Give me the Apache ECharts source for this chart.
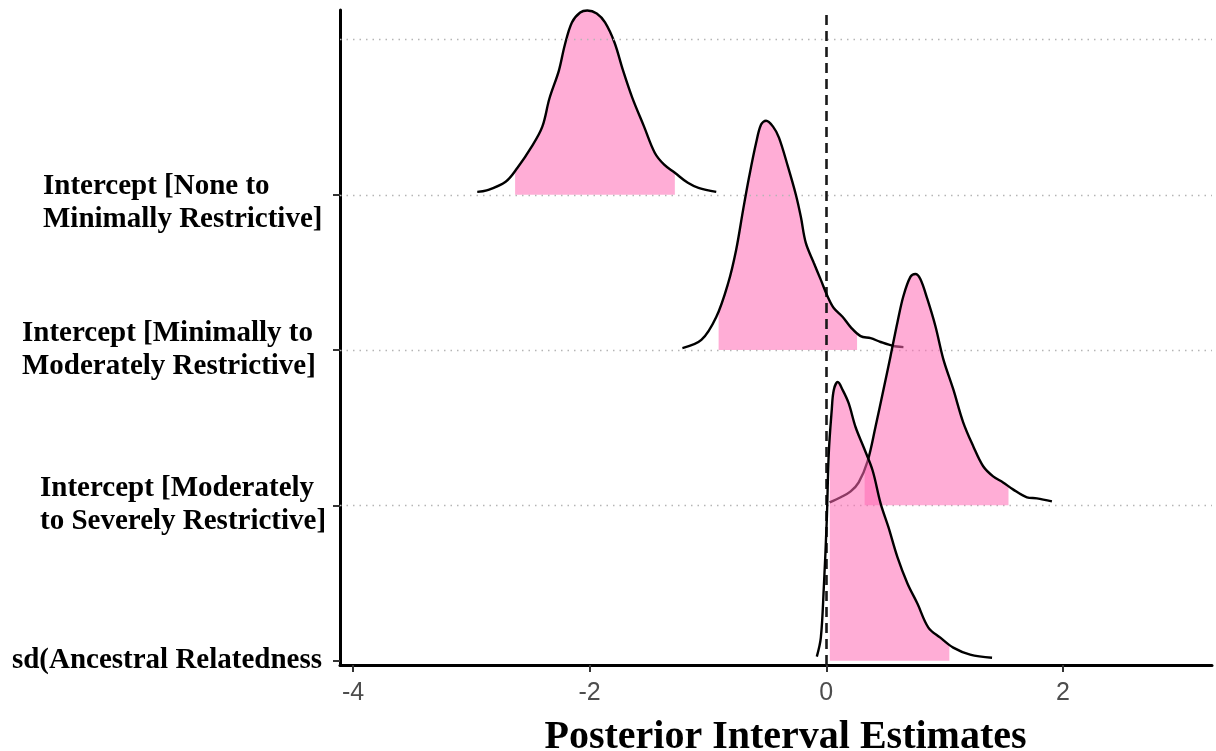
<!DOCTYPE html>
<html>
<head>
<meta charset="utf-8">
<script src="https://cdn.jsdelivr.net/npm/echarts@6/dist/echarts.min.js"></script>
<style>
  html, body { margin: 0; padding: 0; background: #ffffff; }
  #chart { width: 1216px; height: 751px; }
</style>
</head>
<body>
<div id="chart"></div>
<script>
// Row labels, bottom row first (row index = baseline level on the y axis)
const parameterLabels = [
  'sd(Ancestral Relatedness',
  'Intercept [Moderately\nto Severely Restrictive]',
  'Intercept [Minimally to\nModerately Restrictive]',
  'Intercept [None to\nMinimally Restrictive]'
];
const xTickValues = [-4, -2, 0, 2];
const rowLevels = [0, 1, 2, 3];
const gridLevels = [1, 2, 3, 4];

// Posterior density of each parameter: x positions and curve heights (row units)
const noneX = [-2.95, -2.87, -2.71, -2.61, -2.49, -2.40, -2.34, -2.26, -2.21, -2.15, -2.08, -2.02, -1.94, -1.87, -1.79, -1.72, -1.64, -1.54, -1.45, -1.37, -1.28, -1.17, -1.08, -0.93];
const noneH = [0.019, 0.028, 0.084, 0.174, 0.310, 0.439, 0.620, 0.800, 0.965, 1.110, 1.174, 1.187, 1.168, 1.110, 0.981, 0.806, 0.626, 0.439, 0.271, 0.194, 0.142, 0.077, 0.045, 0.019];
const noneInterval = [-2.63, -1.28];

const minimalX = [-1.216, -1.056, -0.930, -0.829, -0.762, -0.703, -0.652, -0.593, -0.551, -0.509, -0.450, -0.400, -0.324, -0.257, -0.215, -0.173, -0.105, -0.046, 0.013, 0.063, 0.139, 0.206, 0.290, 0.375, 0.459, 0.568, 0.652];
const minimalH = [0.013, 0.065, 0.213, 0.432, 0.645, 0.903, 1.116, 1.335, 1.452, 1.477, 1.439, 1.368, 1.181, 1.000, 0.858, 0.690, 0.561, 0.452, 0.342, 0.271, 0.213, 0.148, 0.090, 0.077, 0.052, 0.026, 0.019];
const minimalInterval = [-0.91, 0.26];

const moderateX = [0.029, 0.122, 0.206, 0.274, 0.349, 0.417, 0.484, 0.543, 0.602, 0.652, 0.711, 0.753, 0.795, 0.854, 0.922, 0.989, 1.073, 1.157, 1.242, 1.326, 1.410, 1.494, 1.578, 1.696, 1.780, 1.907];
const moderateH = [0.019, 0.052, 0.090, 0.148, 0.284, 0.510, 0.748, 0.961, 1.181, 1.348, 1.471, 1.490, 1.458, 1.329, 1.155, 0.942, 0.748, 0.535, 0.381, 0.252, 0.187, 0.148, 0.103, 0.052, 0.045, 0.026];
const moderateInterval = [0.324, 1.54];

const sdX = [-0.080, -0.046, -0.021, 0.004, 0.021, 0.046, 0.063, 0.097, 0.139, 0.189, 0.248, 0.316, 0.391, 0.459, 0.526, 0.602, 0.686, 0.770, 0.863, 0.964, 1.073, 1.216, 1.401];
const sdH = [0.026, 0.148, 0.471, 0.903, 1.335, 1.613, 1.742, 1.794, 1.742, 1.658, 1.503, 1.374, 1.226, 1.013, 0.858, 0.665, 0.497, 0.368, 0.213, 0.148, 0.084, 0.039, 0.019];
const sdInterval = [0.03, 1.04];

// Ridges drawn top row first so lower rows overlay upper ones
const ridges = [
  { level: 3, xs: noneX, hs: noneH, interval: noneInterval },
  { level: 2, xs: minimalX, hs: minimalH, interval: minimalInterval },
  { level: 1, xs: moderateX, hs: moderateH, interval: moderateInterval },
  { level: 0, xs: sdX, hs: sdH, interval: sdInterval }
];

const FILL = 'rgba(255,105,180,0.55)';

function heightAt(xs, hs, x) {
  for (let i = 0; i < xs.length - 1; i++) {
    if (x >= xs[i] && x <= xs[i + 1]) {
      const t = (x - xs[i]) / (xs[i + 1] - xs[i]);
      return hs[i] + t * (hs[i + 1] - hs[i]);
    }
  }
  return 0;
}

const series = [];

// dotted horizontal guides at each row baseline
series.push({
  type: 'line', data: [], silent: true, z: 1,
  markLine: {
    silent: true, symbol: 'none', animation: false,
    label: { show: false },
    lineStyle: { color: '#b5b5b5', width: 1.3, type: [1.5, 5] },
    data: gridLevels.map(v => ({ yAxis: v }))
  }
});

ridges.forEach((r, i) => {
  const curve = r.xs.map((x, k) => [x, r.level + r.hs[k]]);
  const lo = r.interval[0], hi = r.interval[1];
  const band = [[lo, r.level + heightAt(r.xs, r.hs, lo)]];
  r.xs.forEach((x, k) => { if (x > lo && x < hi) band.push([x, r.level + r.hs[k]]); });
  band.push([hi, r.level + heightAt(r.xs, r.hs, hi)]);

  series.push({
    type: 'line', data: band, smooth: 0.35, symbol: 'none', silent: true,
    z: 2 + i * 2,
    lineStyle: { width: 0, opacity: 0 },
    areaStyle: { color: FILL, opacity: 1, origin: r.level }
  });
  series.push({
    type: 'line', data: curve, smooth: 0.35, symbol: 'none', silent: true,
    z: 3 + i * 2,
    lineStyle: { color: '#000000', width: 2.4 }
  });
});

// dashed reference line at zero
series.push({
  type: 'line', data: [], silent: true, z: 20,
  markLine: {
    silent: true, symbol: 'none', animation: false,
    label: { show: false },
    lineStyle: { color: '#1a1a1a', width: 2.6, type: [10, 6] },
    data: [{ xAxis: 0 }]
  }
});

const labelRich = {
  sp: { lineHeight: 16, fontSize: 10 },
  l0: { width: 279, align: 'left' },
  l1: { width: 300, align: 'left' },
  l2: { width: 282, align: 'left' },
  l3: { align: 'right' }
};

const chart = echarts.init(document.getElementById('chart'), null, { renderer: 'canvas' });
chart.setOption({
  animation: false,
  backgroundColor: '#ffffff',
  grid: { left: 340, right: 4, top: 10, bottom: 86, containLabel: false, outerBoundsMode: 'none' },
  xAxis: {
    type: 'value',
    min: -4.11, max: 3.26,
    axisLine: { show: true, onZero: false, lineStyle: { color: '#000000', width: 3 } },
    axisTick: { show: true, customValues: xTickValues, length: 7, lineStyle: { color: '#333333', width: 2 } },
    axisLabel: {
      customValues: xTickValues, margin: 16,
      color: '#4d4d4d', fontSize: 25, fontFamily: 'Liberation Sans'
    },
    splitLine: { show: false },
    name: 'Posterior Interval Estimates',
    nameLocation: 'middle',
    nameGap: 53,
    nameTextStyle: {
      fontFamily: 'Liberation Serif', fontWeight: 'bold', fontSize: 40,
      color: '#000000', padding: [0, 0, 0, 19]
    }
  },
  yAxis: {
    type: 'value',
    min: -0.028, max: 4.19,
    axisLine: { show: true, onZero: false, lineStyle: { color: '#000000', width: 3 } },
    axisTick: { show: true, customValues: rowLevels, length: 7, lineStyle: { color: '#333333', width: 2 } },
    axisLabel: {
      customValues: rowLevels,
      margin: 18,
      align: 'right',
      color: '#000000',
      fontFamily: 'Liberation Serif', fontWeight: 'bold', fontSize: 29, lineHeight: 33,
      rich: labelRich,
      formatter: function (v) {
        const idx = Math.round(v);
        const lines = (parameterLabels[idx] || '').split('\n');
        if (idx === 3) return '{sp| }\n' + lines.map(s => '{l0|' + s + '}').join('\n');
        if (idx === 2) return lines.map(s => '{l1|' + s + '}').join('\n');
        if (idx === 1) return lines.map(s => '{l2|' + s + '}').join('\n');
        return '{l3|' + lines[0] + '}';
      }
    },
    splitLine: { show: false }
  },
  series: series
});
</script>
</body>
</html>
